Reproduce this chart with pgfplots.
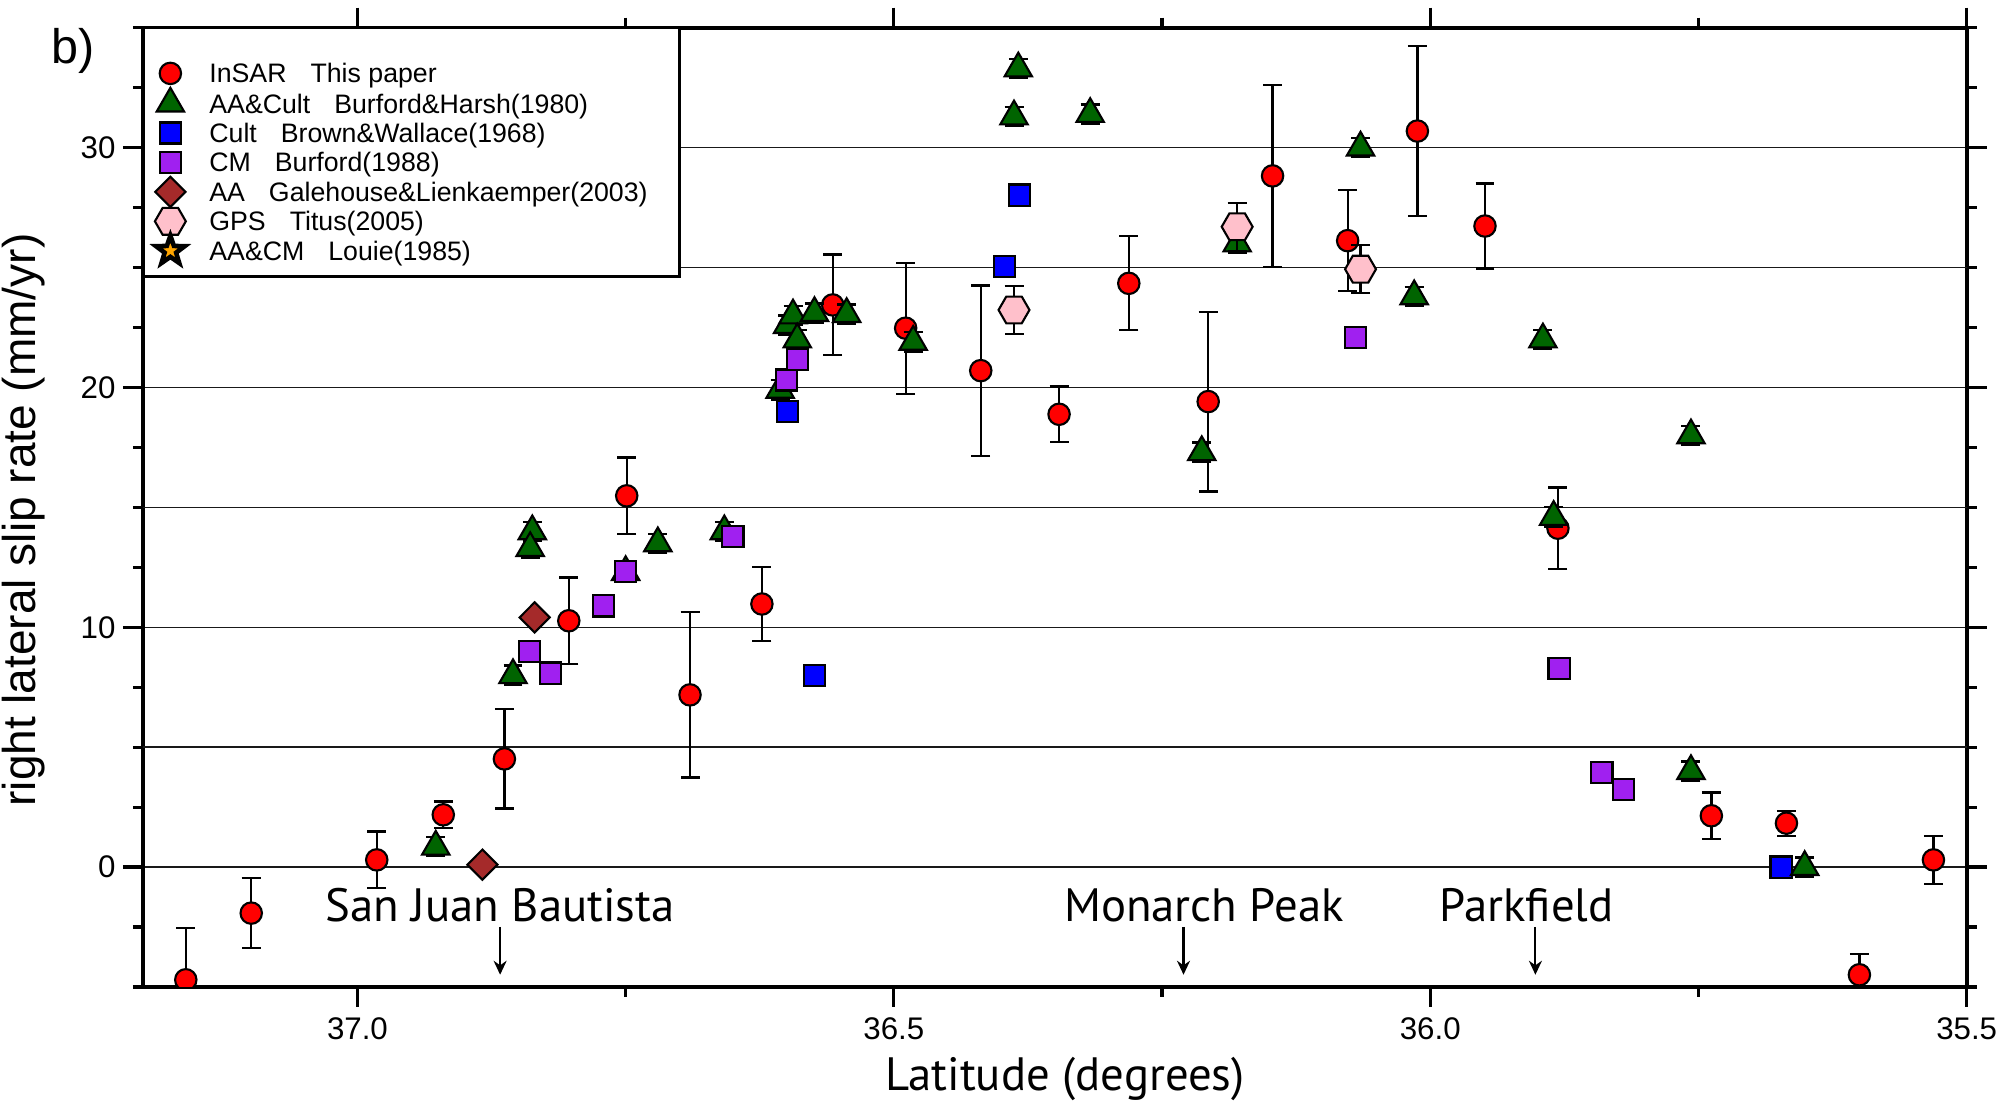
\documentclass[border=0pt]{standalone}
\usepackage{pgfplots}
\pgfplotsset{compat=1.18}
\usetikzlibrary{arrows.meta}
\usepackage{fontspec}
\setmainfont{Liberation Sans}
\newfontfamily\myriad{PT Sans}

\definecolor{cred}{RGB}{255,0,0}
\definecolor{cgreen}{RGB}{0,100,0}
\definecolor{cblue}{RGB}{0,0,255}
\definecolor{cpurple}{RGB}{160,32,240}
\definecolor{cbrown}{RGB}{165,42,42}
\definecolor{cpink}{RGB}{255,192,203}
\definecolor{corange}{RGB}{255,165,0}

% hexagon with points left/right
\pgfdeclareplotmark{hexagon*}{%
  \pgfpathmoveto{\pgfqpoint{\pgfplotmarksize}{0pt}}%
  \pgfpathlineto{\pgfqpoint{0.5\pgfplotmarksize}{0.866\pgfplotmarksize}}%
  \pgfpathlineto{\pgfqpoint{-0.5\pgfplotmarksize}{0.866\pgfplotmarksize}}%
  \pgfpathlineto{\pgfqpoint{-\pgfplotmarksize}{0pt}}%
  \pgfpathlineto{\pgfqpoint{-0.5\pgfplotmarksize}{-0.866\pgfplotmarksize}}%
  \pgfpathlineto{\pgfqpoint{0.5\pgfplotmarksize}{-0.866\pgfplotmarksize}}%
  \pgfpathclose
  \pgfusepathqfillstroke}
% filled five-point star
\pgfdeclareplotmark{fstar}{%
  \pgfpathmoveto{\pgfqpointpolar{90}{\pgfplotmarksize}}%
  \pgfpathlineto{\pgfqpointpolar{126}{0.4\pgfplotmarksize}}%
  \pgfpathlineto{\pgfqpointpolar{162}{\pgfplotmarksize}}%
  \pgfpathlineto{\pgfqpointpolar{198}{0.4\pgfplotmarksize}}%
  \pgfpathlineto{\pgfqpointpolar{234}{\pgfplotmarksize}}%
  \pgfpathlineto{\pgfqpointpolar{270}{0.4\pgfplotmarksize}}%
  \pgfpathlineto{\pgfqpointpolar{306}{\pgfplotmarksize}}%
  \pgfpathlineto{\pgfqpointpolar{342}{0.4\pgfplotmarksize}}%
  \pgfpathlineto{\pgfqpointpolar{18}{\pgfplotmarksize}}%
  \pgfpathlineto{\pgfqpointpolar{54}{0.4\pgfplotmarksize}}%
  \pgfpathclose
  \pgfusepathqfillstroke}

\pgfplotsset{
  legmark/.style={legend image code/.code={%
    \path[draw=none, fill=none] (-0.2cm,-0.18cm) rectangle (0.2cm,0.18cm);
    \draw plot coordinates {(0cm,0.03cm)};}},
  ebar/.style={error bars/y dir=both, error bars/y explicit,
    error bars/error bar style={line width=0.65pt, black},
    error bars/error mark options={rotate=90, line width=0.65pt, mark size=2.7pt, black}},
  sred/.style={only marks, mark=*, mark size=3.05pt,
    mark options={fill=cred, draw=black, line width=0.6pt}},
  sgreen/.style={only marks, mark=triangle*, mark size=4.5pt,
    mark options={fill=cgreen, draw=black, line width=0.6pt}},
  sblue/.style={only marks, mark=square*, mark size=3.0pt,
    mark options={fill=cblue, draw=black, line width=0.6pt}},
  spurple/.style={only marks, mark=square*, mark size=3.0pt,
    mark options={fill=cpurple, draw=black, line width=0.6pt}},
  sbrown/.style={only marks, mark=diamond*, mark size=4.3pt,
    mark options={fill=cbrown, draw=black, line width=0.6pt, xscale=1.33}},
  spink/.style={only marks, mark=hexagon*, mark size=4.4pt,
    mark options={fill=cpink, draw=black, line width=0.6pt}},
  sstar/.style={only marks, mark=fstar, mark size=4.3pt,
    mark options={fill=corange, draw=black, line width=1.3pt}},
}

\begin{document}
\begin{tikzpicture}
\begin{axis}[
  scale only axis, width=18.238cm, height=9.593cm,
  xmin=35.5, xmax=37.2, ymin=-5, ymax=35, x dir=reverse,
  xtick={35.5,36,36.5,37}, minor xtick={35.75,36.25,36.75},
  ytick={0,10,20,30},
  minor ytick={-5,-2.5,2.5,7.5,12.5,17.5,22.5,27.5,32.5,35},
  extra y ticks={5,15,25}, extra y tick labels={},
  extra y tick style={grid=major, major tick length=0.1cm},
  ymajorgrids, grid style={line width=0.4pt, black!90},
  tick align=outside, major tick length=0.2cm, minor tick length=0.1cm,
  every tick/.style={black, line width=0.9pt},
  axis line style={line width=1.1pt},
  clip mode=individual, clip marker paths=true,
  xticklabel style={font=\fontsize{8.9}{10}\selectfont,
    inner sep=0pt, yshift=-0.104cm,
    /pgf/number format/.cd, fixed, fixed zerofill, precision=1,
    assume math mode=true},
  yticklabel style={font=\fontsize{8.9}{10}\selectfont, xshift=0.05cm,
    /pgf/number format/assume math mode=true},
  xlabel={\myriad Latitude (degrees)},
  xlabel style={at={(axis description cs:0.5056,-0.1074)}, anchor=base,
    inner sep=0pt, font=\fontsize{13.3}{15}\selectfont},
  ylabel={right lateral slip rate (mm/yr)},
  ylabel style={at={(axis description cs:-0.0652,0.4868)}, anchor=center,
    inner sep=0pt, font=\fontsize{13.1}{15}\selectfont},
  legend style={at={(axis description cs:0,1)}, anchor=north west,
    xshift=0.068cm, yshift=-0.30cm, draw=none, fill=none, inner sep=0pt,
    row sep=-0.066cm, column sep=0.19cm,
    font=\fontsize{7.6}{9}\selectfont,
    nodes={inner sep=0pt, text height=0.18cm, text depth=0.05cm}},
  legend cell align=left,
]

% legend frame
\draw[line width=1pt, fill=white] (axis description cs:0,1) rectangle (axis description cs:0.2942,0.7404);

% InSAR, this paper
\addplot[sred, ebar, forget plot] coordinates {
  (37.160,-4.70) +- (0,2.16)
  (37.099,-1.92) +- (0,1.45)
  (36.982,0.30) +- (0,1.18)
  (36.920,2.18) +- (0,0.55)
  (36.863,4.51) +- (0,2.07)
  (36.803,10.27) +- (0,1.80)
  (36.749,15.48) +- (0,1.60)
  (36.690,7.18) +- (0,3.45)
  (36.623,10.97) +- (0,1.55)
  (36.557,23.44) +- (0,2.10)
  (36.489,22.47) +- (0,2.73)
  (36.419,20.70) +- (0,3.55)
  (36.346,18.88) +- (0,1.16)
  (36.281,24.34) +- (0,1.96)
  (36.207,19.41) +- (0,3.75)
  (36.147,28.82) +- (0,3.80)
  (36.077,26.12) +- (0,2.10)
  (36.012,30.69) +- (0,3.55)
  (35.949,26.73) +- (0,1.77)
  (35.881,14.13) +- (0,1.70)
  (35.738,2.14) +- (0,0.97)
  (35.668,1.83) +- (0,0.52)
  (35.600,-4.49) +- (0,0.88)
  (35.531,0.30) +- (0,1.00)
};

% Cult, Brown & Wallace
\addplot[sblue, forget plot] coordinates {
  (36.599,18.99) (36.574,7.99) (36.397,25.04) (36.383,28.02) (35.673,0.0)
};

% AA & Cult, Burford & Harsh
\addplot[sgreen, ebar, forget plot] coordinates {
  (36.927,0.85) +- (0,0.4)
  (36.855,8.0) +- (0,0.4)
  (36.837,14.0) +- (0,0.4)
  (36.839,13.3) +- (0,0.4)
  (36.750,12.3) +- (0,0.4)
  (36.720,13.5) +- (0,0.4)
  (36.658,14.0) +- (0,0.4)
  (36.606,19.9) +- (0,0.4)
  (36.599,22.6) +- (0,0.4)
  (36.594,23.0) +- (0,0.4)
  (36.590,22.0) +- (0,0.4)
  (36.574,23.1) +- (0,0.4)
  (36.544,23.06) +- (0,0.4)
  (36.482,21.9) +- (0,0.4)
  (36.388,31.3) +- (0,0.4)
  (36.384,33.3) +- (0,0.4)
  (36.317,31.4) +- (0,0.4)
  (36.213,17.3) +- (0,0.4)
  (36.180,26.0) +- (0,0.4)
  (36.065,30.0) +- (0,0.4)
  (36.015,23.8) +- (0,0.4)
  (35.895,22.0) +- (0,0.4)
  (35.885,14.6) +- (0,0.4)
  (35.757,18.0) +- (0,0.4)
  (35.757,4.0) +- (0,0.4)
  (35.651,0.0) +- (0,0.4)
};

% CM, Burford
\addplot[spurple, forget plot] coordinates {
  (36.8395,8.99) (36.8202,8.09) (36.7705,10.89) (36.750,12.32) (36.650,13.78)
  (36.600,20.31) (36.590,21.17) (36.070,22.09) (35.880,8.29) (35.840,3.94)
  (35.8196,3.22)
};

% AA, Galehouse & Lienkaemper
\addplot[sbrown, forget plot] coordinates {
  (36.8835,0.10) (36.8348,10.41)
};

% GPS, Titus
\addplot[spink, ebar, forget plot] coordinates {
  (36.388,23.23) +- (0,1.0)
  (36.180,26.70) +- (0,1.0)
  (36.065,24.93) +- (0,1.0)
};

\addlegendimage{sred, legmark}
\addlegendentry{InSAR\hspace{2.4mm}This paper}
\addlegendimage{sgreen, legmark}
\addlegendentry{AA\&Cult\hspace{2.4mm}Burford\&Harsh(1980)}
\addlegendimage{sblue, legmark}
\addlegendentry{Cult\hspace{2.4mm}Brown\&Wallace(1968)}
\addlegendimage{spurple, legmark}
\addlegendentry{CM\hspace{2.4mm}Burford(1988)}
\addlegendimage{sbrown, legmark}
\addlegendentry{AA\hspace{2.4mm}Galehouse\&Lienkaemper(2003)}
\addlegendimage{spink, legmark}
\addlegendentry{GPS\hspace{2.4mm}Titus(2005)}
\addlegendimage{sstar, legmark}
\addlegendentry{AA\&CM\hspace{2.4mm}Louie(1985)}

% place names
\node[anchor=base, font=\myriad\fontsize{13.3}{15}\selectfont] at (axis cs:36.867,-2.28) {San Juan Bautista};
\node[anchor=base, font=\myriad\fontsize{13.3}{15}\selectfont] at (axis cs:36.211,-2.28) {Monarch Peak};
\node[anchor=base, font=\myriad\fontsize{13.3}{15}\selectfont] at (axis cs:35.910,-2.28) {Parkfield};
\draw[line width=0.6pt, -{Stealth[length=1.4mm, width=1.3mm]}] (axis cs:36.867,-2.49) -- (axis cs:36.867,-4.49);
\draw[line width=0.6pt, -{Stealth[length=1.4mm, width=1.3mm]}] (axis cs:36.230,-2.49) -- (axis cs:36.230,-4.49);
\draw[line width=0.6pt, -{Stealth[length=1.4mm, width=1.3mm]}] (axis cs:35.902,-2.49) -- (axis cs:35.902,-4.49);

% panel letter
\node[anchor=base, font=\fontsize{13.8}{15}\selectfont] at (axis description cs:-0.0385,0.9622) {b)};

% page extent
\path (axis description cs:-0.07835,-0.1209) rectangle (axis description cs:1.01991,1.02888);
\end{axis}
\end{tikzpicture}
\end{document}
